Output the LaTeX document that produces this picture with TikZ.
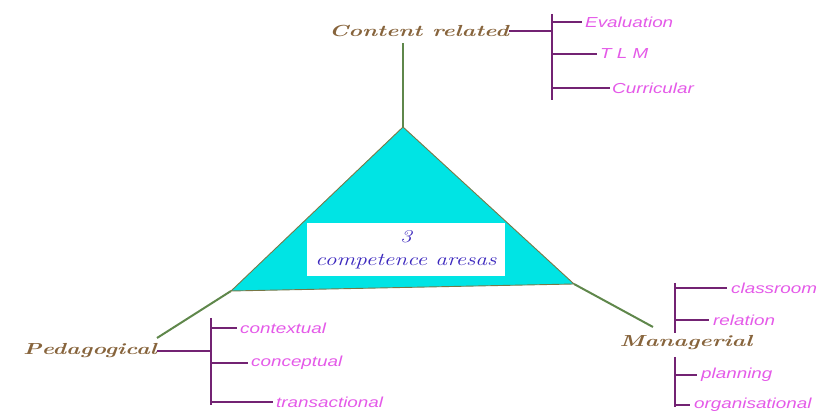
\documentclass[tikz,border=0pt]{standalone}
\usepackage{fontspec}
\setmainfont{Latin Modern Roman}
\newfontfamily\lblfont[FakeStretch=1.3]{Liberation Sans}
\newfontfamily\scrfont[FakeStretch=1.45]{Latin Modern Roman}
\newfontfamily\ctrfont[FakeStretch=1.3]{Latin Modern Roman}
\definecolor{cyanfill}{RGB}{0,228,228}
\definecolor{triedge}{RGB}{120,120,70}
\definecolor{greenline}{RGB}{95,135,75}
\definecolor{purpline}{RGB}{115,35,115}
\definecolor{pinktext}{RGB}{228,90,232}
\definecolor{browntext}{RGB}{135,100,60}
\definecolor{bluetext}{RGB}{60,40,190}
\tikzset{
  lbl/.style={anchor=west, inner sep=0pt, text=pinktext, font=\lblfont\itshape\fontsize{14.5}{16}\selectfont},
  area/.style={inner sep=0pt, text=browntext, font=\scrfont\itshape\bfseries\fontsize{16}{18}\selectfont},
  gline/.style={draw=greenline, line width=2pt},
  pline/.style={draw=purpline, line width=2.2pt},
}
\begin{document}
\begin{tikzpicture}[x=1pt,y=-1pt]
\useasboundingbox (0,0) rectangle (830,411);
% triangle
\coordinate (A) at (403,127);
\coordinate (B) at (231,291);
\coordinate (C) at (574,284);
\filldraw[fill=cyanfill, draw=triedge, line width=0.9pt] (A) -- (C) -- (B) -- cycle;
\node[fill=white, minimum width=198pt, minimum height=53pt, inner sep=0pt, align=center,
      text=bluetext, font=\ctrfont\itshape\fontsize{18}{23}\selectfont] (box) at (406,250) {3\\competence aresas};

% area labels
\node[area] (cr) at (419,31) {Content related};
\node[area] (ped) at (90,351) {Pedagogical};
\node[area] (man) at (686,343) {Managerial};

% green connectors
\coordinate (crd) at (403,43);
\coordinate (pedc) at (157,338);
\coordinate (manc) at (653,327);
\draw[gline] (A) -- (crd);
\draw[gline] (B) -- (pedc);
\draw[gline] (C) -- (manc);

% content related branches
\coordinate (crb1) at (552,14);
\coordinate (crb2) at (552,100);
\node[lbl] (ev) at (585,22) {Evaluation};
\node[lbl] (tlm) at (600,54) {T L M};
\node[lbl] (cur) at (612,88) {Curricular};
\draw[pline] (cr.east) -- (cr.east -| crb1);
\draw[pline] (crb1) -- (crb2);
\draw[pline] (ev.west -| crb1) -- ([xshift=-3pt]ev.west);
\draw[pline] (tlm.west -| crb1) -- ([xshift=-3pt]tlm.west);
\draw[pline] (cur.west -| crb1) -- ([xshift=-2pt]cur.west);

% pedagogical branches
\coordinate (pb1) at (211,318);
\coordinate (pb2) at (211,405);
\node[lbl] (ctx) at (240,328) {contextual};
\node[lbl] (cpt) at (251,363) {conceptual};
\node[lbl] (trn) at (276,402) {transactional};
\draw[pline] (ped.east) -- (ped.east -| pb1);
\draw[pline] (pb1) -- (pb2);
\draw[pline] (ctx.west -| pb1) -- ([xshift=-3pt]ctx.west);
\draw[pline] (cpt.west -| pb1) -- ([xshift=-3pt]cpt.west);
\draw[pline] (trn.west -| pb1) -- ([xshift=-3pt]trn.west);

% managerial branches
\coordinate (mb1) at (675,283);
\coordinate (mb2) at (675,333);
\coordinate (mb3) at (675,357);
\coordinate (mb4) at (675,407);
\node[lbl] (cls) at (731,288) {classroom};
\node[lbl] (rel) at (713,320) {relation};
\node[lbl] (pln) at (701,375) {planning};
\node[lbl] (org) at (694,405) {organisational};
\draw[pline] (mb1) -- (mb2);
\draw[pline] (mb3) -- (mb4);
\draw[pline] (cls.west -| mb1) -- ([xshift=-4pt]cls.west);
\draw[pline] (rel.west -| mb1) -- ([xshift=-4pt]rel.west);
\draw[pline] (pln.west -| mb1) -- ([xshift=-4pt]pln.west);
\draw[pline] (org.west -| mb1) -- ([xshift=-4pt]org.west);
\end{tikzpicture}
\end{document}
